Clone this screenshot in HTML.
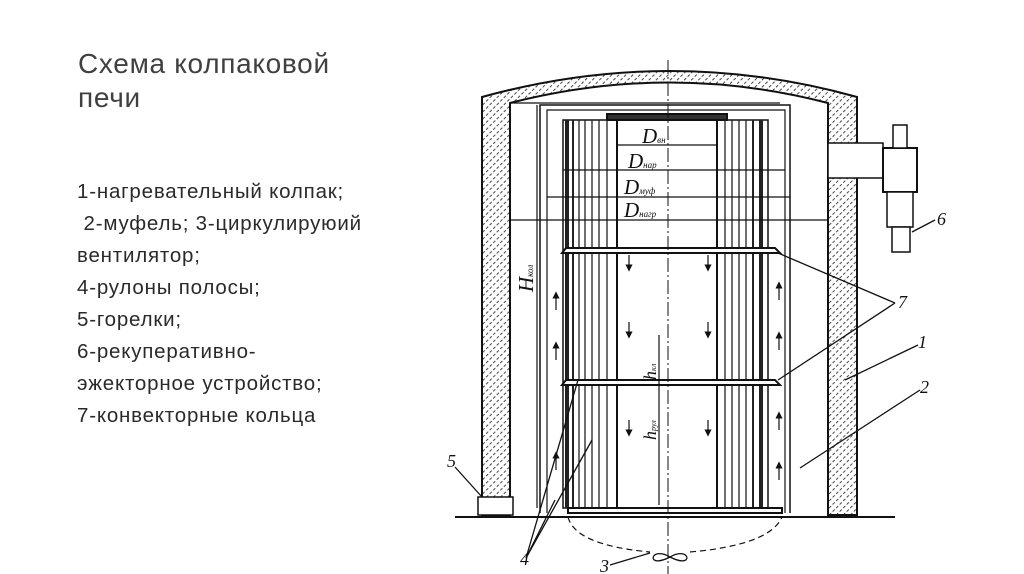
<!DOCTYPE html>
<html><head><meta charset="utf-8"><style>
body{margin:0;width:1024px;height:574px;background:#fff;overflow:hidden;position:relative;font-family:"Liberation Sans",sans-serif;color:#404040}
.t{position:absolute;left:78px;font-size:28px;line-height:34px;top:47px;letter-spacing:0.7px}
.l{position:absolute;left:77px;top:176px;font-size:20.5px;line-height:32px;color:#2a2a2a;letter-spacing:0.8px}
svg{position:absolute;left:0;top:0}
</style></head><body>
<div class="t">Схема колпаковой<br>печи</div>
<div class="l">1-нагревательный колпак;<br>&nbsp;2-муфель; 3-циркулируюий<br>вентилятор;<br>4-рулоны полосы;<br>5-горелки;<br>6-рекуперативно-<br>эжекторное устройство;<br>7-конвекторные кольца</div>
<svg width="1024" height="574" viewBox="0 0 1024 574">
<defs><pattern id="h" width="5" height="5" patternUnits="userSpaceOnUse" patternTransform="rotate(45)"><rect width="5" height="5" fill="#fff"/><line x1="0" y1="0" x2="0" y2="5" stroke="#333" stroke-width="1.8" stroke-dasharray="3 2"/></pattern>
<marker id="a" markerWidth="6" markerHeight="6" refX="3" refY="3" orient="auto"><path d="M0 0 L6 3 L0 6Z" fill="#111"/></marker></defs>
<g stroke="#111" fill="none" stroke-width="2">
<path d="M482 515 L482 97 Q670 45 857 97 L857 515 L828 515 L828 103 Q670 62 510 103 L510 515 Z" fill="url(#h)"/>
<path d="M540 513 L540 105 L790 105 L790 513" stroke-width="1.5"/>
<path d="M547 513 L547 110 L785 110 L785 513" stroke-width="1.2"/>
<line x1="510" y1="103" x2="780" y2="103" stroke-width="1.2"/>
<rect x="563" y="120" width="205" height="388" stroke-width="1.5"/>
<rect x="607" y="114" width="120" height="6" fill="#333"/>
<line x1="617" y1="120" x2="617" y2="508"/><line x1="717" y1="120" x2="717" y2="508"/>
<g stroke-width="1.3" stroke="#222">
<line x1="567" y1="120" x2="567" y2="508" stroke-width="4"/><line x1="573" y1="120" x2="573" y2="508" stroke-width="2"/><line x1="579" y1="120" x2="579" y2="508"/><line x1="585" y1="120" x2="585" y2="508"/><line x1="592" y1="120" x2="592" y2="508"/><line x1="599" y1="120" x2="599" y2="508"/><line x1="607" y1="120" x2="607" y2="508"/>
<line x1="725" y1="120" x2="725" y2="508"/><line x1="732" y1="120" x2="732" y2="508"/><line x1="739" y1="120" x2="739" y2="508"/><line x1="746" y1="120" x2="746" y2="508"/><line x1="753" y1="120" x2="753" y2="508" stroke-width="2"/><line x1="761" y1="120" x2="761" y2="508" stroke-width="4"/>
</g>
<path d="M562 253 L566 248 L775 248 L780 253 Z" fill="#fff" stroke-width="2"/>
<path d="M562 385 L566 380 L775 380 L780 385 Z" fill="#fff" stroke-width="2"/>
<rect x="568" y="508" width="214" height="5" fill="#fff"/>
<g stroke-width="1.2">
<line x1="617" y1="145" x2="717" y2="145"/><line x1="563" y1="170" x2="785" y2="170"/><line x1="547" y1="197" x2="790" y2="197"/><line x1="510" y1="220" x2="828" y2="220"/>
<line x1="537" y1="105" x2="537" y2="508"/>
<line x1="659" y1="335" x2="659" y2="505"/>
</g>
<g stroke-width="1.2" marker-end="url(#a)">
<line x1="556" y1="310" x2="556" y2="295"/><line x1="556" y1="360" x2="556" y2="345"/><line x1="556" y1="470" x2="556" y2="455"/>
<line x1="779" y1="300" x2="779" y2="285"/><line x1="779" y1="350" x2="779" y2="335"/><line x1="779" y1="430" x2="779" y2="415"/><line x1="779" y1="480" x2="779" y2="465"/>
<line x1="629" y1="255" x2="629" y2="268"/><line x1="629" y1="322" x2="629" y2="335"/><line x1="629" y1="420" x2="629" y2="433"/>
<line x1="708" y1="255" x2="708" y2="268"/><line x1="708" y1="322" x2="708" y2="335"/><line x1="708" y1="420" x2="708" y2="433"/>
</g>
<line x1="668" y1="60" x2="668" y2="574" stroke-width="1" stroke-dasharray="14 3 2 3"/>
<line x1="455" y1="517" x2="895" y2="517" stroke-width="2"/>
<rect x="478" y="497" width="35" height="18" fill="#fff" stroke-width="1.5"/>
<rect x="828" y="143" width="55" height="35" fill="#fff" stroke-width="1.5"/>
<rect x="883" y="148" width="34" height="44" fill="#fff"/>
<rect x="893" y="125" width="14" height="23" fill="#fff" stroke-width="1.5"/>
<rect x="887" y="192" width="26" height="35" fill="#fff" stroke-width="1.5"/>
<rect x="892" y="227" width="18" height="25" fill="#fff" stroke-width="1.5"/>
<g stroke-width="1.3">
<line x1="935" y1="220" x2="912" y2="232"/>
<line x1="895" y1="303" x2="778" y2="253"/><line x1="895" y1="303" x2="778" y2="380"/>
<line x1="918" y1="345" x2="845" y2="380"/>
<line x1="920" y1="390" x2="800" y2="468"/>
<line x1="455" y1="467" x2="482" y2="497"/>
<line x1="526" y1="558" x2="578" y2="380"/><line x1="526" y1="558" x2="592" y2="440"/><line x1="526" y1="558" x2="555" y2="500"/>
<line x1="610" y1="565" x2="650" y2="553"/>
</g>
<path d="M568 517 Q575 545 650 552 M690 552 Q770 545 782 517" stroke-width="1.2" stroke-dasharray="6 4"/>
<path d="M670 557 C650 545 645 570 670 557 C690 545 695 570 670 557" stroke-width="1.3"/>
</g>
<g font-family="Liberation Serif,serif" font-style="italic" fill="#111" font-size="21">
<text x="642" y="143">D<tspan font-size="9">вн</tspan></text>
<text x="628" y="168">D<tspan font-size="9">нар</tspan></text>
<text x="624" y="194">D<tspan font-size="9">муф</tspan></text>
<text x="624" y="217">D<tspan font-size="9">нагр</tspan></text>
<text x="0" y="0" transform="translate(533 292) rotate(-90)">H<tspan font-size="9">кол</tspan></text>
<text x="0" y="0" transform="translate(656 380) rotate(-90)" font-size="18">h<tspan font-size="8">кл</tspan></text>
<text x="0" y="0" transform="translate(656 440) rotate(-90)" font-size="18">h<tspan font-size="8">рул</tspan></text>
<text x="937" y="225" font-size="18">6</text>
<text x="898" y="308" font-size="18">7</text>
<text x="918" y="348" font-size="18">1</text>
<text x="920" y="393" font-size="18">2</text>
<text x="447" y="467" font-size="18">5</text>
<text x="520" y="565" font-size="18">4</text>
<text x="600" y="572" font-size="18">3</text>
</g>
</svg>
</body></html>
